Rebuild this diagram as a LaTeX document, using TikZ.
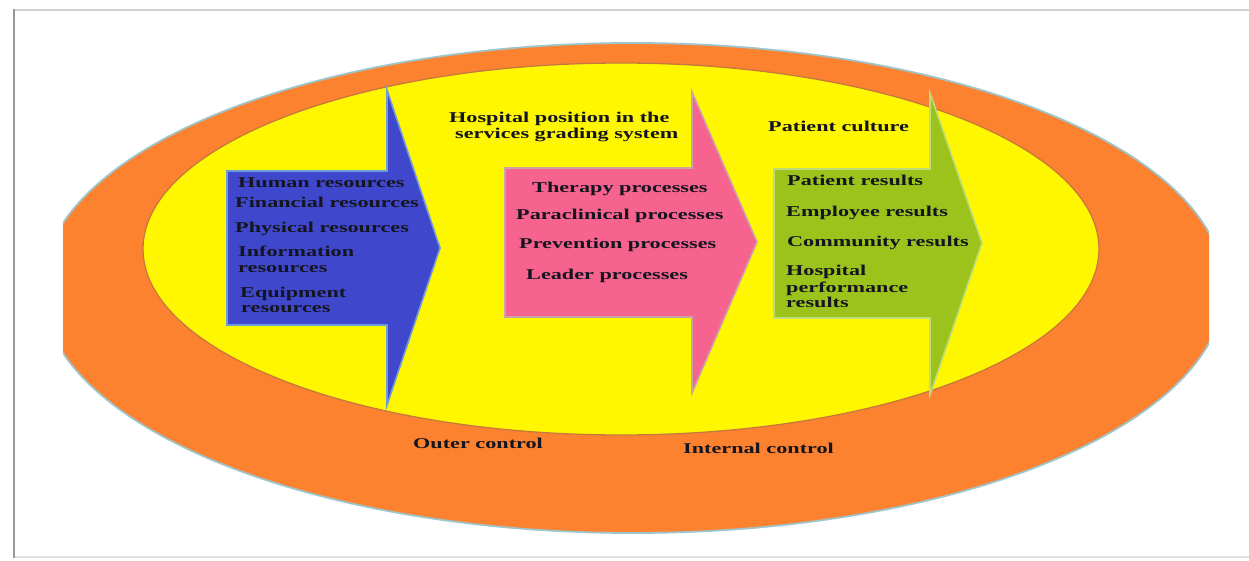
\documentclass[tikz,border=0pt]{standalone}
\usepackage{fontspec}
\newfontfamily\labfont[FakeStretch=1.48]{Liberation Serif}
\definecolor{outerorange}{HTML}{FD8230}
\definecolor{outeredge}{HTML}{9EC4CC}
\definecolor{inneryellow}{HTML}{FFF700}
\definecolor{inneredge}{HTML}{C8783C}
\definecolor{arrblue}{HTML}{3F48CC}
\definecolor{arrblueedge}{HTML}{6C9BD8}
\definecolor{arrpink}{HTML}{F7638F}
\definecolor{arrpinkedge}{HTML}{C9A3A8}
\definecolor{arrgreen}{HTML}{9BC31C}
\definecolor{arrgreenedge}{HTML}{BFDC7A}
\definecolor{txt}{HTML}{151520}
\begin{document}
\begin{tikzpicture}[x=1pt,y=-1pt,
  lab/.style={anchor=base west, inner sep=0pt, text=txt,
    font=\labfont\bfseries\fontsize{15}{15}\selectfont},
  blockarrow/.style={line width=1.6pt, line join=miter}]
\useasboundingbox (0,0) rectangle (1249,561);
% frame
\draw[black!18, line width=2pt] (14,10) -- (1249,10);
\draw[black!12, line width=1.5pt] (14,557) -- (1249,557);
\draw[black!40, line width=2.5pt] (14,9) -- (14,558);
% outer ellipse, clipped at both sides
\begin{scope}
  \clip (63,0) rectangle (1209,561);
  \draw[fill=outerorange, draw=outeredge, line width=1.8pt] (633,288) ellipse [x radius=591, y radius=245];
\end{scope}
% inner ellipse
\draw[fill=inneryellow, draw=inneredge, line width=1.3pt] (621,249) ellipse [x radius=478, y radius=186];
% blue arrow
\draw[blockarrow, fill=arrblue, draw=arrblueedge] (227,171) -- (387,171) -- (387,90) -- (440,248) -- (387,405) -- (387,325) -- (227,325) -- cycle;
% pink arrow
\draw[blockarrow, fill=arrpink, draw=arrpinkedge] (505,168) -- (692,168) -- (692,92) -- (757,242) -- (692,393) -- (692,317) -- (505,317) -- cycle;
% green arrow
\draw[blockarrow, fill=arrgreen, draw=arrgreenedge] (774,169) -- (930,169) -- (930,93) -- (982,243) -- (930,395) -- (930,318) -- (774,318) -- cycle;
% blue texts
\node[lab] (hr) at (238,188) {Human resources};
\node[lab] (fr) at (235,208) {Financial resources};
\node[lab] (pr) at (235,233) {Physical resources};
\node[lab] (ir1) at (238,257) {Information};
\node[lab] (ir2) at (238,272) {resources};
\node[lab] (er1) at (240,297) {Equipment};
\node[lab] (er2) at (241,312) {resources};
% pink texts
\node[lab] (hp1) at (449,123) {Hospital position in the};
\node[lab] (hp2) at (455,139) {services grading system};
\node[lab] (tp) at (532,193) {Therapy processes};
\node[lab] (pcp) at (516,220) {Paraclinical processes};
\node[lab] (pvp) at (519,248) {Prevention processes};
\node[lab] (lp) at (526,279) {Leader processes};
% green texts
\node[lab] (pc) at (768,132) {Patient culture};
\node[lab] (prs) at (787,186) {Patient results};
\node[lab] (ers) at (786,217) {Employee results};
\node[lab] (crs) at (787,247) {Community results};
\node[lab] (hpr1) at (786,276) {Hospital};
\node[lab] (hpr2) at (786,292) {performance};
\node[lab] (hpr3) at (786,307) {results};
% control labels
\node[lab] (oc) at (413,448) {Outer control};
\node[lab] (ic) at (683,453) {Internal control};
\end{tikzpicture}
\end{document}
